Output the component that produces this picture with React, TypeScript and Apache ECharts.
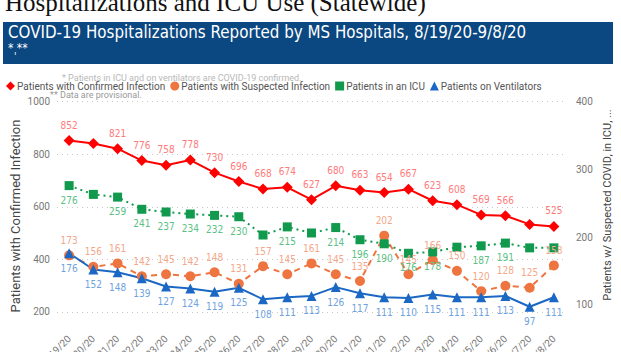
import React, { useEffect, useRef } from "react";
import * as echarts from "echarts";

const dates = [
  "8/19/20", "8/20/20", "8/21/20", "8/22/20", "8/23/20", "8/24/20", "8/25/20",
  "8/26/20", "8/27/20", "8/28/20", "8/29/20", "8/30/20", "8/31/20", "9/1/20",
  "9/2/20", "9/3/20", "9/4/20", "9/5/20", "9/6/20", "9/7/20", "9/8/20",
];
const confirmed = [852, 841, 821, 776, 758, 778, 730, 696, 668, 674, 627, 680, 663, 654, 667, 623, 608, 569, 566, 533, 525];
const suspected = [173, 156, 161, 142, 145, 142, 148, 131, 157, 145, 161, 145, 135, 202, 145, 166, 150, 120, 128, 125, 158];
const icu = [276, 263, 259, 241, 237, 234, 232, 230, 203, 215, 206, 214, 196, 190, 176, 178, 185, 187, 191, 184, 184];
const ventilators = [176, 152, 148, 139, 127, 124, 119, 125, 108, 111, 113, 126, 117, 111, 110, 115, 111, 111, 113, 97, 111];

const leftTicks = [200, 400, 600, 800, 1000];
const rightTicks = [100, 200, 300, 400];

const confirmedHidden = [1, 19];
const suspectedHidden: number[] = [];
const icuHidden = [1, 8, 10, 16, 19, 20];
const ventHidden: number[] = [];

const leftAxisTitle = "Patients with Confirmed Infection";
const rightAxisTitle = "Patients w/ Suspected COVID, in ICU, ...";

const UI = "Roboto, 'Open Sans', sans-serif";
const COND = "'Liberation Sans Narrow', 'DejaVu Sans Condensed', Roboto, sans-serif";

function withLabels(values: number[], hidden: number[]) {
  return values.map((v, i) => ({ value: v, label: { show: !hidden.includes(i) } }));
}

export default function App() {
  const ref = useRef<HTMLDivElement>(null);
  useEffect(() => {
    if (!ref.current) return;
    const chart = echarts.init(ref.current, null, { renderer: "svg" });
    const labelBase = (color: string, pos: string) => ({
      show: true,
      position: pos,
      color,
      fontSize: 10,
      fontFamily: COND,
      distance: 5,
    });
    chart.setOption({
      animation: false,
      backgroundColor: "#ffffff",
      graphic: [
        {
          type: "text",
          left: 5,
          top: -10,
          style: {
            text: "Hospitalizations and ICU Use (Statewide)",
            fontFamily: "'Liberation Serif', 'Times New Roman', serif",
            fontSize: 25,
            fill: "#111",
          },
        },
        {
          type: "rect",
          shape: { x: 3, y: 22, width: 610, height: 42 },
          style: { fill: "#0B4781" },
        },
        {
          type: "text",
          x: 8,
          y: 32,
          style: {
            text: "COVID-19 Hospitalizations Reported by MS Hospitals, 8/19/20-9/8/20",
            fontFamily: COND,
            fontSize: 16.8,
            fill: "#ffffff",
            verticalAlign: "middle",
          },
        },
        {
          type: "text",
          x: 8,
          y: 48,
          style: { text: "* **", fontFamily: COND, fontSize: 12, fill: "#ffffff", verticalAlign: "middle" },
        },
        {
          type: "text",
          x: 14,
          y: 56,
          style: { text: "'", fontFamily: COND, fontSize: 10, fill: "#ffffff", verticalAlign: "middle" },
        },
        {
          type: "text",
          x: 62,
          y: 78,
          z: -1,
          style: {
            text: "* Patients in ICU and on ventilators are COVID-19 confirmed.",
            fontFamily: UI,
            fontSize: 9,
            fill: "#b8b8b8",
            verticalAlign: "middle",
          },
        },
        {
          type: "text",
          x: 50,
          y: 95,
          style: {
            text: "** Data are provisional.",
            fontFamily: UI,
            fontSize: 9,
            fill: "#999999",
            verticalAlign: "middle",
          },
        },
        {
          type: "text",
          x: 15,
          y: 216,
          rotation: Math.PI / 2,
          style: {
            text: leftAxisTitle,
            fontFamily: UI,
            fontSize: 13,
            fill: "#444",
            align: "center",
            verticalAlign: "middle",
          },
        },
        {
          type: "text",
          x: 607,
          y: 205,
          rotation: Math.PI / 2,
          style: {
            text: rightAxisTitle,
            fontFamily: UI,
            fontSize: 11,
            fill: "#444",
            align: "center",
            verticalAlign: "middle",
          },
        },
      ],
      legend: {
        left: 1,
        top: 76,
        itemWidth: 9,
        itemHeight: 9,
        itemGap: 5,
        textStyle: { fontFamily: UI, fontSize: 10, color: "#555", padding: [0, 0, 0, -3] },
        data: [
          { name: "Patients with Confirmed Infection", icon: "diamond" },
          { name: "Patients with Suspected Infection", icon: "circle" },
          { name: "Patients in an ICU", icon: "rect" },
          { name: "Patients on Ventilators", icon: "triangle" },
        ],
      },
      grid: { left: 57, right: 55, top: 101.7, bottom: 27, outerBoundsMode: "none", containLabel: false },
      xAxis: {
        type: "category",
        data: dates,
        boundaryGap: true,
        axisLine: { show: false },
        axisTick: { show: false },
        axisLabel: {
          rotate: 45,
          interval: 0,
          fontSize: 10,
          fontFamily: UI,
          color: "#777",
          margin: 12,
        },
      },
      yAxis: [
        {
          type: "value",
          min: 150,
          max: 1000,
          axisLine: { show: false },
          axisTick: { show: false, customValues: leftTicks },
          axisLabel: {
            customValues: leftTicks,
            formatter: (v: number) => String(v),
            fontFamily: UI,
            fontSize: 10,
            color: "#777",
            margin: 7,
          },
          splitLine: { show: true, lineStyle: { type: [1, 4], color: "#c8c8c8", width: 1 } },
        },
        {
          type: "value",
          min: 70,
          max: 400,
          axisLine: { show: false },
          axisTick: { show: false, customValues: rightTicks },
          axisLabel: {
            customValues: rightTicks,
            formatter: (v: number) => String(v),
            fontFamily: UI,
            fontSize: 10,
            color: "#777",
            margin: 10,
          },
          splitLine: { show: false },
        },
      ],
      series: [
        {
          name: "Patients with Confirmed Infection",
          type: "line",
          yAxisIndex: 0,
          data: withLabels(confirmed, confirmedHidden),
          symbol: "diamond",
          symbolSize: 11,
          itemStyle: { color: "#FF0000" },
          lineStyle: { color: "#FF0000", width: 2 },
          label: labelBase("#FF7A7A", "top"),
          z: 4,
        },
        {
          name: "Patients with Suspected Infection",
          type: "line",
          yAxisIndex: 1,
          data: withLabels(suspected, suspectedHidden),
          symbol: "circle",
          symbolSize: 10,
          itemStyle: { color: "#EE7440" },
          lineStyle: { color: "#EE7440", width: 2, type: [6, 5] },
          label: labelBase("#F4A88A", "top"),
          z: 3,
        },
        {
          name: "Patients in an ICU",
          type: "line",
          yAxisIndex: 1,
          data: withLabels(icu, icuHidden),
          symbol: "rect",
          symbolSize: 9,
          itemStyle: { color: "#119A4D" },
          lineStyle: { color: "#119A4D", width: 2, type: [2, 4] },
          label: labelBase("#5CBF85", "bottom"),
          z: 3,
        },
        {
          name: "Patients on Ventilators",
          type: "line",
          yAxisIndex: 1,
          data: withLabels(ventilators, ventHidden),
          symbol: "triangle",
          symbolSize: 10,
          itemStyle: { color: "#1B68C4" },
          lineStyle: { color: "#1B68C4", width: 2 },
          label: labelBase("#6FA3E0", "bottom"),
          z: 3,
        },
      ],
    });
    return () => chart.dispose();
  }, []);
  return (
    <div
      ref={ref}
      style={{ position: "fixed", left: 0, top: 0, width: 621, height: 352, background: "#fff" }}
    />
  );
}
